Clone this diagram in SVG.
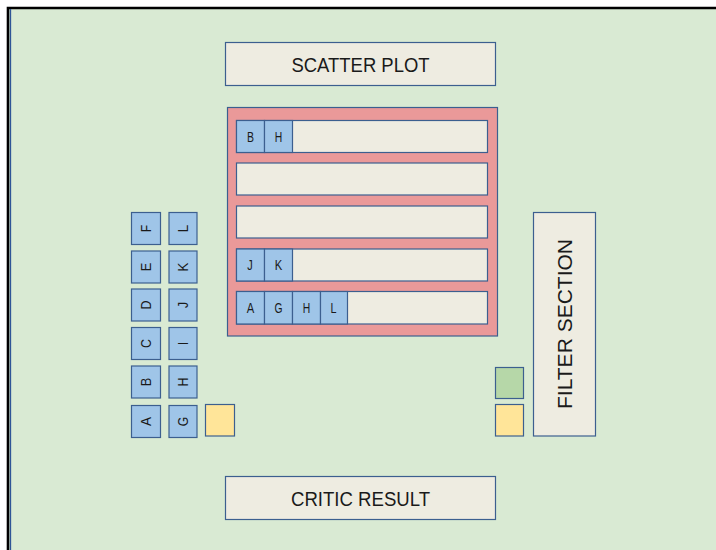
<svg xmlns="http://www.w3.org/2000/svg" width="716" height="550" viewBox="0 0 716 550">
  <style>
    .panel { fill: #eeece1; stroke: #3c5f8f; stroke-width: 1.2; }
    .cell { fill: #9fc5e8; stroke: #3c5f8f; stroke-width: 1.2; }
    .frame { fill: #ea9999; stroke: #3c5f8f; stroke-width: 1.2; }
    .big { font-family: "Liberation Sans", Arial, sans-serif; font-size: 20.5px; fill: #1a1a1a; text-anchor: middle; }
    .small { font-family: "Liberation Sans", Arial, sans-serif; font-size: 14px; fill: #1a1a1a; text-anchor: middle; }
  </style>

  <!-- page background and frame -->
  <rect x="0" y="0" width="716" height="550" fill="#ffffff"/>
  <rect x="8" y="8" width="708" height="542" fill="#d9ead3"/>
  <path d="M8 550 V8 H716" fill="none" stroke="#000000" stroke-width="2.6"/>
  <line x1="10.5" y1="9" x2="10.5" y2="550" stroke="#2f5597" stroke-width="1.3"/>

  <g id="scatter-plot">
    <rect class="panel" x="225.5" y="42.5" width="270" height="43"/>
    <text class="big" x="360.5" y="71.5" textLength="138" lengthAdjust="spacingAndGlyphs">SCATTER PLOT</text>
  </g>

  <g id="chart-area">
    <rect class="frame" x="227.5" y="107.5" width="270" height="228.5"/>
    <g id="row-1">
      <rect class="panel" x="236.5" y="120.5" width="251" height="32"/>
      <rect class="cell" x="236.5" y="120.5" width="28" height="32"/>
      <rect class="cell" x="264.5" y="120.5" width="28" height="32"/>
      <text class="small" x="250.5" y="141.5" textLength="7" lengthAdjust="spacingAndGlyphs">B</text>
      <text class="small" x="278.5" y="141.5" textLength="7.5" lengthAdjust="spacingAndGlyphs">H</text>
    </g>
    <g id="row-2">
      <rect class="panel" x="236.5" y="163" width="251" height="32"/>
    </g>
    <g id="row-3">
      <rect class="panel" x="236.5" y="206" width="251" height="32"/>
    </g>
    <g id="row-4">
      <rect class="panel" x="236.5" y="249" width="251" height="32"/>
      <rect class="cell" x="236.5" y="249" width="28" height="32"/>
      <rect class="cell" x="264.5" y="249" width="28" height="32"/>
      <text class="small" x="250" y="270" textLength="5.5" lengthAdjust="spacingAndGlyphs">J</text>
      <text class="small" x="278.5" y="270" textLength="7.5" lengthAdjust="spacingAndGlyphs">K</text>
    </g>
    <g id="row-5">
      <rect class="panel" x="236.5" y="291.5" width="251" height="32.5"/>
      <rect class="cell" x="236.5" y="291.5" width="28" height="32.5"/>
      <rect class="cell" x="264.5" y="291.5" width="28" height="32.5"/>
      <rect class="cell" x="292.5" y="291.5" width="28" height="32.5"/>
      <rect class="cell" x="320.5" y="291.5" width="27" height="32.5"/>
      <text class="small" x="250.5" y="312.5" textLength="7.5" lengthAdjust="spacingAndGlyphs">A</text>
      <text class="small" x="278.5" y="312.5" textLength="8" lengthAdjust="spacingAndGlyphs">G</text>
      <text class="small" x="306.5" y="312.5" textLength="7.5" lengthAdjust="spacingAndGlyphs">H</text>
      <text class="small" x="333.5" y="312.5" textLength="6" lengthAdjust="spacingAndGlyphs">L</text>
    </g>
  </g>

  <!-- left column of rotated tiles -->
  <g id="tile-A"><rect class="cell" x="131.5" y="405.5" width="29" height="32"/><text class="small" transform="translate(151 421.5) rotate(-90)" textLength="9" lengthAdjust="spacingAndGlyphs">A</text></g>
  <g id="tile-B"><rect class="cell" x="131.5" y="366" width="29" height="32"/><text class="small" transform="translate(151 382) rotate(-90)" textLength="8.5" lengthAdjust="spacingAndGlyphs">B</text></g>
  <g id="tile-C"><rect class="cell" x="131.5" y="327.5" width="29" height="32"/><text class="small" transform="translate(151 343.5) rotate(-90)" textLength="9" lengthAdjust="spacingAndGlyphs">C</text></g>
  <g id="tile-D"><rect class="cell" x="131.5" y="289" width="29" height="32"/><text class="small" transform="translate(151 305) rotate(-90)" textLength="9" lengthAdjust="spacingAndGlyphs">D</text></g>
  <g id="tile-E"><rect class="cell" x="131.5" y="251" width="29" height="32"/><text class="small" transform="translate(151 267) rotate(-90)" textLength="8.5" lengthAdjust="spacingAndGlyphs">E</text></g>
  <g id="tile-F"><rect class="cell" x="131.5" y="212.5" width="29" height="32"/><text class="small" transform="translate(151 228.5) rotate(-90)" textLength="7.5" lengthAdjust="spacingAndGlyphs">F</text></g>

  <g id="tile-G"><rect class="cell" x="169" y="405.5" width="28" height="32"/><text class="small" transform="translate(188 421.5) rotate(-90)" textLength="9.5" lengthAdjust="spacingAndGlyphs">G</text></g>
  <g id="tile-H"><rect class="cell" x="169" y="366" width="28" height="32"/><text class="small" transform="translate(188 382) rotate(-90)" textLength="9" lengthAdjust="spacingAndGlyphs">H</text></g>
  <g id="tile-I"><rect class="cell" x="169" y="327.5" width="28" height="32"/><text class="small" transform="translate(188 343.5) rotate(-90)" textLength="3" lengthAdjust="spacingAndGlyphs">I</text></g>
  <g id="tile-J"><rect class="cell" x="169" y="289" width="28" height="32"/><text class="small" transform="translate(188 305) rotate(-90)" textLength="6.5" lengthAdjust="spacingAndGlyphs">J</text></g>
  <g id="tile-K"><rect class="cell" x="169" y="251" width="28" height="32"/><text class="small" transform="translate(188 267) rotate(-90)" textLength="9" lengthAdjust="spacingAndGlyphs">K</text></g>
  <g id="tile-L"><rect class="cell" x="169" y="212.5" width="28" height="32"/><text class="small" transform="translate(188 228.5) rotate(-90)" textLength="7.5" lengthAdjust="spacingAndGlyphs">L</text></g>

  <g id="swatch-left-yellow">
    <rect x="205.5" y="404.5" width="29" height="31.5" fill="#ffe599" stroke="#3c5f8f" stroke-width="1.2"/>
  </g>
  <g id="swatch-right-green">
    <rect x="495.5" y="367.5" width="28" height="31" fill="#b6d7a8" stroke="#3c5f8f" stroke-width="1.2"/>
  </g>
  <g id="swatch-right-yellow">
    <rect x="495.5" y="404.5" width="28" height="31.5" fill="#ffe599" stroke="#3c5f8f" stroke-width="1.2"/>
  </g>

  <g id="filter-section">
    <rect class="panel" x="533.5" y="212.5" width="62" height="223.5"/>
    <text class="big" transform="translate(572 324) rotate(-90)" textLength="170" lengthAdjust="spacingAndGlyphs">FILTER SECTION</text>
  </g>

  <g id="critic-result">
    <rect class="panel" x="225.5" y="476.5" width="270" height="43"/>
    <text class="big" x="360.5" y="505.5" textLength="139" lengthAdjust="spacingAndGlyphs">CRITIC RESULT</text>
  </g>
</svg>
